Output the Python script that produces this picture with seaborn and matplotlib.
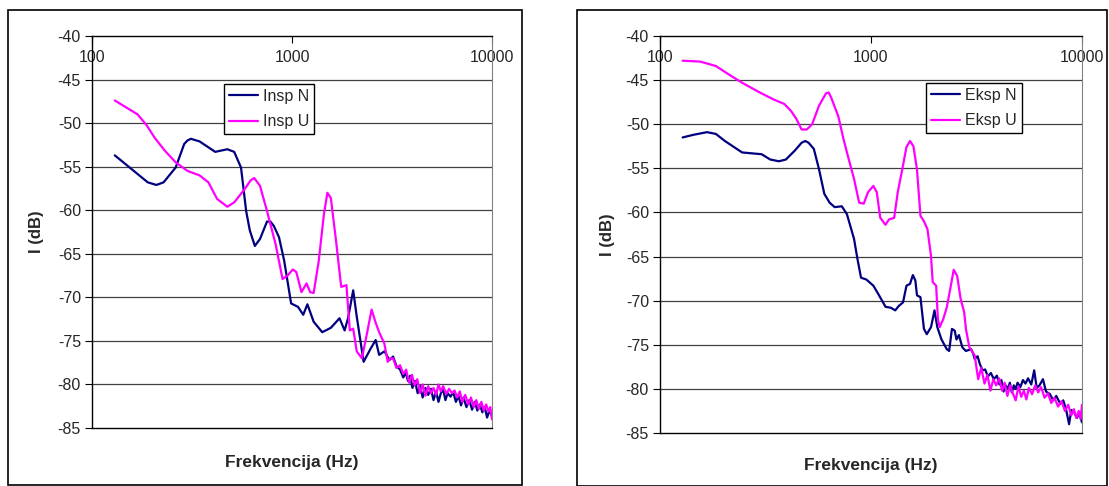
import numpy as np
import pandas as pd
import matplotlib
matplotlib.use("Agg")
import matplotlib.pyplot as plt
import seaborn as sns
from matplotlib.patches import Rectangle
from matplotlib.ticker import FixedLocator, NullLocator

# Insp N (left panel, navy)
insp_n_f = [130, 190, 210, 228, 262, 289, 300, 312, 345, 413, 475, 514, 556, 590, 615, 652, 692,
            750, 780, 811, 861, 914, 990, 1072, 1138, 1194, 1283, 1416, 1564, 1728, 1833, 1906,
            2023, 2107, 2281, 2471, 2620, 2727, 2900, 3070, 3200, 3330, 3470, 3600, 3700,
            3800, 3900, 4000, 4120, 4250, 4380, 4500, 4650, 4800, 4950, 5100, 5250, 5400,
            5550, 5700, 5850, 6000, 6200, 6400, 6600, 6800, 7000, 7200, 7450, 7700, 7950,
            8200, 8450, 8700, 8950, 9200, 9450, 9700, 10000]
insp_n_db = [-53.7, -56.8, -57.1, -56.8, -55.1, -52.4, -52.0, -51.8, -52.1, -53.3, -53.0, -53.3, -55.1,
             -60.1, -62.3, -64.1, -63.3, -61.3, -61.3, -61.8, -63.1, -65.8, -70.7, -71.1, -72.0, -70.8,
             -72.8, -74.0, -73.5, -72.4, -73.8, -72.4, -69.2, -72.2, -77.4, -75.9, -74.9, -76.6,
             -76.2, -77.2, -76.8, -77.9, -78.3, -79.2, -78.6, -79.6, -79.0, -80.4, -79.6, -81.0,
             -80.2, -81.5, -80.4, -81.2, -80.5, -81.8, -80.8, -82.0, -81.0, -80.6, -81.8, -81.0,
             -81.4, -80.9, -82.0, -81.3, -82.4, -81.5, -82.6, -81.8, -82.9, -82.0, -83.0, -82.3,
             -83.2, -82.6, -83.8, -83.0, -83.6]

# Insp U (left panel, magenta)
insp_u_f = [130, 169, 187, 206, 232, 262, 301, 345, 382, 422, 475, 514, 579, 620, 647, 692, 750,
            828, 897, 951, 1009, 1051, 1115, 1183, 1232, 1283, 1361, 1445, 1503, 1564, 1660,
            1762, 1871, 1945, 2023, 2107, 2236, 2373, 2500, 2620, 2727, 2895, 3011, 3100,
            3200, 3330, 3470, 3600, 3720, 3850, 3980, 4100, 4230, 4370, 4500, 4650, 4800,
            4950, 5100, 5250, 5400, 5550, 5700, 5900, 6100, 6300, 6500, 6700, 6900, 7100,
            7350, 7600, 7850, 8100, 8350, 8600, 8850, 9100, 9350, 9600, 9800, 10000]
insp_u_db = [-47.4, -49.0, -50.2, -51.7, -53.2, -54.5, -55.5, -56.0, -56.8, -58.7, -59.6, -59.1,
             -57.6, -56.6, -56.3, -57.2, -60.1, -63.9, -67.9, -67.5, -66.8, -67.1, -69.4, -68.4, -69.4,
             -69.5, -65.8, -60.4, -58.0, -58.6, -63.5, -68.8, -68.6, -73.8, -73.6, -76.2, -77.0,
             -74.1, -71.4, -72.9, -74.0, -75.3, -77.4, -77.0, -77.0, -78.1, -77.8, -78.8, -78.3,
             -79.8, -78.9, -80.1, -79.4, -81.0, -80.0, -81.3, -80.2, -81.0, -80.4, -81.2, -80.0,
             -80.8, -80.2, -81.1, -80.5, -81.0, -80.7, -81.5, -80.8, -82.0, -81.2, -82.3, -81.5,
             -82.6, -81.8, -82.8, -82.0, -83.0, -82.3, -83.1, -82.6, -84.0]

# Eksp N (right panel, navy)
eksp_n_f = [128, 144, 167, 184, 203, 245, 303, 333, 366, 395, 435, 469, 488, 506, 536, 567, 601,
            637, 673, 727, 769, 831, 863, 897, 950, 1026, 1086, 1172, 1241, 1303, 1354, 1418,
            1473, 1531, 1579, 1622, 1652, 1715, 1782, 1838, 1925, 2000, 2062, 2158, 2287,
            2346, 2419, 2493, 2542, 2610, 2711, 2816, 2983, 3050, 3099, 3200, 3282, 3380,
            3476, 3580, 3700, 3822, 3950, 4060, 4150, 4250, 4350, 4454, 4550, 4650, 4750,
            4850, 4950, 5100, 5250, 5395, 5550, 5750, 5935, 6100, 6287, 6530, 6750, 7051,
            7300, 7550, 7896, 8150, 8400, 8686, 8900, 9200, 9450, 9700, 10000]
eksp_n_db = [-51.5, -51.2, -50.9, -51.1, -51.9, -53.2, -53.4, -54.0, -54.2, -54.0, -53.0, -52.1,
             -51.9, -52.1, -52.8, -55.1, -57.9, -58.9, -59.4, -59.3, -60.2, -63.0, -65.3, -67.4, -67.6,
             -68.3, -69.3, -70.7, -70.8, -71.1, -70.6, -70.2, -68.3, -68.1, -67.1, -67.7, -69.4,
             -69.6, -73.2, -73.8, -73.0, -71.1, -73.0, -74.4, -75.5, -75.7, -73.2, -73.4, -74.4,
             -73.9, -75.3, -75.7, -75.5, -76.0, -76.6, -76.3, -77.2, -77.9, -77.8, -78.6, -78.2,
             -78.9, -78.5, -79.5, -79.0, -80.3, -79.6, -80.0, -79.3, -80.4, -79.6, -80.0, -79.3,
             -79.8, -79.0, -79.4, -78.8, -79.5, -77.9, -79.9, -79.6, -78.9, -80.3, -80.6, -81.3,
             -80.8, -81.7, -81.3, -82.3, -84.0, -82.4, -82.7, -83.3, -82.8, -83.8]

# Eksp U (right panel, magenta)
eksp_u_f = [128, 155, 184, 210, 245, 297, 346, 388, 418, 443, 469, 496, 526, 567, 612, 630, 648,
            700, 741, 785, 831, 879, 924, 968, 1026, 1065, 1106, 1171, 1216, 1288, 1339, 1407,
            1472, 1530, 1589, 1651, 1716, 1782, 1852, 1924, 1961, 2036, 2075, 2116, 2199,
            2284, 2373, 2466, 2561, 2660, 2764, 2818, 2926, 3099, 3221, 3330, 3450, 3560,
            3680, 3800, 3920, 4050, 4180, 4300, 4430, 4560, 4700, 4850, 5000, 5150, 5300,
            5450, 5600, 5800, 6000, 6200, 6400, 6650, 6900, 7150, 7400, 7700, 8000, 8300,
            8600, 8900, 9150, 9400, 9650, 9850, 10000]
eksp_u_db = [-42.8, -42.9, -43.4, -44.3, -45.3, -46.4, -47.2, -47.7, -48.5, -49.4, -50.6, -50.6,
             -50.0, -47.9, -46.5, -46.4, -47.0, -49.1, -51.7, -54.0, -56.2, -58.9, -59.0, -57.7, -57.0,
             -57.7, -60.6, -61.4, -60.8, -60.6, -57.7, -55.1, -52.6, -51.9, -52.5, -55.1, -60.4,
             -61.0, -61.9, -64.9, -67.9, -68.3, -72.1, -73.0, -72.1, -70.8, -68.7, -66.5, -67.2,
             -69.8, -71.3, -73.2, -75.3, -76.2, -78.9, -77.6, -79.4, -78.4, -80.2, -78.9, -79.6,
             -78.8, -80.2, -79.3, -80.8, -79.6, -80.5, -81.3, -79.7, -80.9, -80.2, -81.2, -79.9,
             -80.6, -79.6, -80.4, -79.8, -81.0, -80.5, -81.6, -81.0, -82.0, -81.4, -82.5, -81.8,
             -83.0, -82.3, -83.3, -82.5, -83.4, -81.8]

x_ticks = [100, 1000, 10000]
y_ticks = [-40, -45, -50, -55, -60, -65, -70, -75, -80, -85]

NAVY = "#000080"
MAGENTA = "#FF00FF"
W, H = 1109, 486

sns.set_style("white")
plt.rcParams["font.family"] = ["Liberation Sans", "DejaVu Sans"]

fig = plt.figure(figsize=(W / 100, H / 100), dpi=100)


def px_axes(x0, y0, x1, y1):
    return fig.add_axes([x0 / W, 1 - y1 / H, (x1 - x0) / W, (y1 - y0) / H])


def frame(x0, y0, x1, y1):
    fig.patches.append(Rectangle((x0 / W, 1 - y1 / H), (x1 - x0) / W, (y1 - y0) / H,
                                 transform=fig.transFigure, fill=False,
                                 edgecolor="black", linewidth=1.2))


def panel(ax, f_n, db_n, f_u, db_u, lab_n, lab_u, legend_pos):
    df_n = pd.DataFrame({"f": f_n, "db": db_n})
    df_u = pd.DataFrame({"f": f_u, "db": db_u})
    sns.lineplot(data=df_n, x="f", y="db", ax=ax, color=NAVY, linewidth=1.6, label=lab_n)
    sns.lineplot(data=df_u, x="f", y="db", ax=ax, color=MAGENTA, linewidth=1.6, label=lab_u)
    ax.set_xscale("log")
    ax.set_xlim(100, 10000)
    ax.set_ylim(-85, -40)
    ax.xaxis.set_major_locator(FixedLocator(x_ticks))
    ax.xaxis.set_minor_locator(NullLocator())
    ax.set_xticklabels([str(t) for t in x_ticks])
    ax.set_yticks(y_ticks)
    ax.set_yticklabels([str(t) for t in y_ticks])
    ax.tick_params(axis="x", top=True, bottom=False, labeltop=True, labelbottom=False,
                   direction="in", length=5, pad=-21, labelsize=11.5, color="black")
    ax.tick_params(axis="y", left=True, direction="out", length=5, pad=3,
                   labelsize=11.5, color="black")
    for y in y_ticks[1:-1]:
        ax.axhline(y, color="#404040", linewidth=0.9, zorder=0)
    for s in ["left", "top", "bottom"]:
        ax.spines[s].set_color("black")
        ax.spines[s].set_linewidth(1.0)
    ax.spines["right"].set_color("#808080")
    ax.set_xlabel("")
    ax.set_ylabel("I (dB)", fontsize=12, fontweight="bold")
    leg = ax.legend(loc="upper left", bbox_to_anchor=legend_pos, frameon=True, fancybox=False,
                    fontsize=11.5, handlelength=1.8, handletextpad=0.35, borderpad=0.3,
                    labelspacing=0.65, borderaxespad=0)
    leg.get_frame().set_edgecolor("black")
    leg.get_frame().set_linewidth(1.0)
    leg.get_frame().set_alpha(1)


# left panel
frame(8, 10, 522, 485)
ax1 = px_axes(92, 36, 492, 428)
panel(ax1, insp_n_f, insp_n_db, insp_u_f, insp_u_db, "Insp N", "Insp U",
      ((224 - 92) / 400, (428 - 84) / 392))
ax1.yaxis.set_label_coords(-0.12, 0.5)
fig.text(292 / W, 1 - 462 / H, "Frekvencija (Hz)", ha="center", va="center",
         fontsize=12.5, fontweight="bold")

# right panel
frame(577, 10, 1107, 486)
ax2 = px_axes(660, 36, 1082, 433)
panel(ax2, eksp_n_f, eksp_n_db, eksp_u_f, eksp_u_db, "Eksp N", "Eksp U",
      ((926 - 660) / 422, (433 - 83) / 397))
ax2.yaxis.set_label_coords(-0.106, 0.5)
fig.text(871 / W, 1 - 465 / H, "Frekvencija (Hz)", ha="center", va="center",
         fontsize=12.5, fontweight="bold")

fig.savefig("out.png", dpi=100)
